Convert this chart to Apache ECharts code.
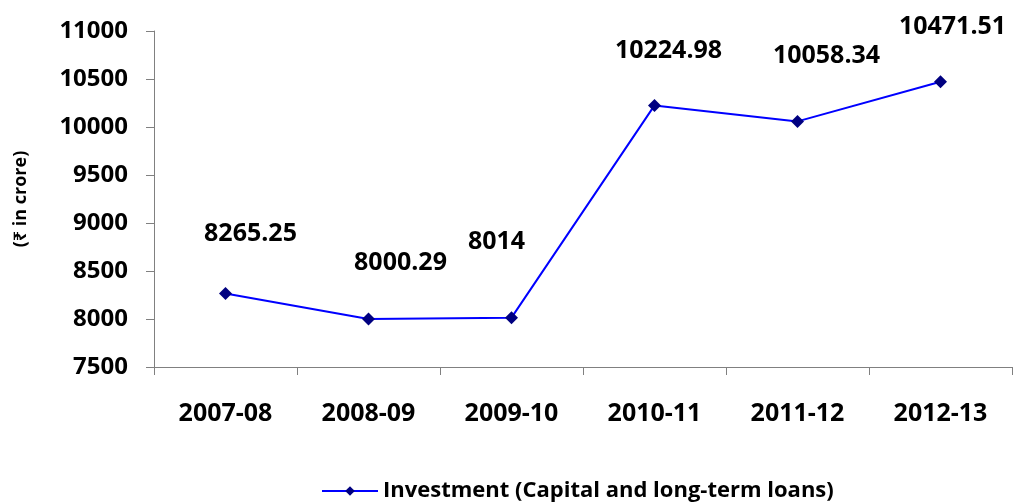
<!DOCTYPE html>
<html>
<head>
<meta charset="utf-8">
<script src="https://cdn.jsdelivr.net/npm/echarts@6/dist/echarts.min.js"></script>
<style>
  html, body { margin: 0; padding: 0; background: #fff; }
  #chart { width: 1020px; height: 504px; }
</style>
</head>
<body>
<div id="chart"></div>
<script>
// 年度和投资数据
const years = ['2007-08', '2008-09', '2009-10', '2010-11', '2011-12', '2012-13']
const investment = [8265.25, 8000.29, 8014, 10224.98, 10058.34, 10471.51]
const valueLabels = ['8265.25', '8000.29', '8014', '10224.98', '10058.34', '10471.51']
// 标签偏移 (参照原图的摆放)
const labelOffsets = [[25, -60], [32, -56], [-15, -76], [14, -55], [29, -66], [12, -55]]

const font = '"Open Sans", "Noto Sans", sans-serif'
const chart = echarts.init(document.getElementById('chart'))

chart.setOption({
  animation: false,
  textStyle: { fontFamily: font },
  grid: { left: 154, right: 8, top: 31, bottom: 137, outerBoundsMode: 'none' },
  legend: {
    bottom: -3,
    left: 316,
    itemWidth: 56,
    itemHeight: 12,
    itemGap: 5,
    textStyle: { fontFamily: font, fontWeight: 'bold', fontSize: 22, color: '#000' },
    data: ['Investment (Capital and long-term loans)']
  },
  xAxis: {
    type: 'category',
    data: years,
    boundaryGap: true,
    axisLine: { lineStyle: { color: '#808080', width: 1 } },
    axisTick: { show: true, length: 8, lineStyle: { color: '#808080' } },
    axisLabel: { color: '#000', fontWeight: 'bold', fontSize: 25, margin: 34, fontFamily: font }
  },
  yAxis: {
    type: 'value',
    min: 7500,
    max: 11000,
    interval: 500,
    name: '(₹ in crore)',
    nameLocation: 'middle',
    nameGap: 124,
    nameRotate: 90,
    nameTextStyle: { color: '#000', fontWeight: 'bold', fontSize: 18, fontFamily: font },
    splitLine: { show: false },
    axisLine: { show: true, lineStyle: { color: '#808080', width: 1 } },
    axisTick: { show: true, length: 8, lineStyle: { color: '#808080' } },
    axisLabel: {
      color: '#000', fontWeight: 'bold', fontSize: 24, margin: 26, fontFamily: font,
      formatter: v => String(v)
    }
  },
  series: [
    {
      name: 'Investment (Capital and long-term loans)',
      type: 'line',
      data: investment.map((v, i) => ({
        value: v,
        label: { offset: labelOffsets[i] }
      })),
      symbol: 'diamond',
      symbolSize: 13,
      lineStyle: { color: '#0000ff', width: 2 },
      itemStyle: { color: '#000080' },
      label: {
        show: true,
        position: 'inside',
        formatter: p => valueLabels[p.dataIndex],
        color: '#000',
        fontWeight: 'bold',
        fontSize: 25,
        fontFamily: font
      }
    }
  ]
})
</script>
</body>
</html>
